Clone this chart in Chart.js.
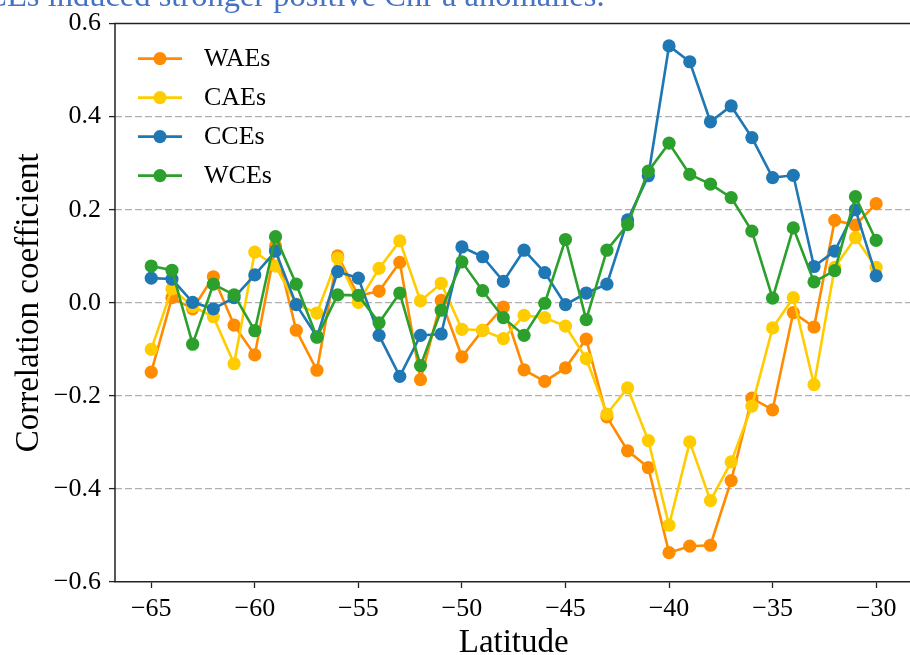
<!DOCTYPE html>
<html>
<head>
<meta charset="utf-8">
<script src="https://cdn.jsdelivr.net/npm/chart.js@4.4.1/dist/chart.umd.min.js"></script>
<style>
  html, body { margin: 0; padding: 0; background: #fff; overflow: hidden; }
  #wrap { width: 919px; height: 655px; }
</style>
</head>
<body>
<div id="wrap"><canvas id="chart" width="919" height="655"></canvas></div>
<script>
const latitudes = [-65, -64, -63, -62, -61, -60, -59, -58, -57, -56, -55, -54, -53, -52, -51, -50, -49, -48,
  -47, -46, -45, -44, -43, -42, -41, -40, -39, -38, -37, -36, -35, -34, -33, -32, -31, -30];

const waes = [-0.149, 0.011, -0.013, 0.056, -0.048, -0.112, 0.122, -0.059, -0.145, 0.101, 0.015, 0.025,
  0.087, -0.165, 0.005, -0.116, -0.059, -0.009, -0.144, -0.169, -0.140, -0.078, -0.245, -0.318,
  -0.354, -0.537, -0.523, -0.521, -0.382, -0.205, -0.230, -0.021, -0.052, 0.177, 0.167, 0.213];

const caes = [-0.100, 0.030, -0.008, -0.030, -0.131, 0.109, 0.079, -0.003, -0.022, 0.096, 0.001, 0.074,
  0.133, 0.004, 0.042, -0.057, -0.059, -0.077, -0.027, -0.032, -0.050, -0.120, -0.239, -0.183,
  -0.296, -0.478, -0.299, -0.425, -0.342, -0.222, -0.054, 0.011, -0.176, 0.076, 0.140, 0.076];

const cces = [0.053, 0.051, 0.001, -0.013, 0.011, 0.060, 0.111, -0.004, -0.073, 0.067, 0.053, -0.070,
  -0.158, -0.070, -0.067, 0.120, 0.099, 0.046, 0.113, 0.065, -0.004, 0.021, 0.040, 0.178,
  0.273, 0.552, 0.518, 0.389, 0.423, 0.355, 0.269, 0.274, 0.078, 0.111, 0.200, 0.058];

const wces = [0.079, 0.070, -0.089, 0.040, 0.017, -0.060, 0.142, 0.040, -0.074, 0.017, 0.016, -0.043,
  0.021, -0.135, -0.016, 0.088, 0.026, -0.032, -0.070, -0.001, 0.136, -0.036, 0.113, 0.168,
  0.283, 0.343, 0.276, 0.255, 0.226, 0.154, 0.010, 0.161, 0.045, 0.069, 0.228, 0.134];

const seriesNames = ["WAEs", "CAEs", "CCEs", "WCEs"];
const seriesColors = ["#ff8c00", "#ffcc00", "#1f77b4", "#2ca02c"];
const xTicks = [-65, -60, -55, -50, -45, -40, -35, -30];
const yTicks = [-0.6, -0.4, -0.2, 0.0, 0.2, 0.4, 0.6];

const titleText = "CCEs induced stronger positive Chl-a anomalies.";
const serif = "'Liberation Serif', 'Times New Roman', serif";

const minus = (s) => s.replace("-", "\u2212");

const makeDataset = (label, values, color, order) => ({
  label: label,
  data: latitudes.map((lat, i) => ({ x: lat, y: values[i] })),
  borderColor: color,
  backgroundColor: color,
  pointBackgroundColor: color,
  pointBorderColor: color,
  borderWidth: 2.6,
  pointRadius: 6.6,
  pointBorderWidth: 0,
  pointHoverRadius: 6.6,
  tension: 0,
  order: order,
});

// legend drawn like matplotlib: short line with a marker, no frame
const lineLegend = {
  id: "lineLegend",
  afterDraw(chart) {
    const ctx = chart.ctx;
    const { left, top } = chart.chartArea;
    ctx.save();
    ctx.font = "26px " + serif;
    ctx.textBaseline = "middle";
    chart.data.datasets.forEach((ds, i) => {
      const y = top + 35 + i * 39;
      const x0 = left + 23;
      ctx.strokeStyle = ds.borderColor;
      ctx.lineWidth = 2.6;
      ctx.beginPath();
      ctx.moveTo(x0, y);
      ctx.lineTo(x0 + 44, y);
      ctx.stroke();
      ctx.fillStyle = ds.borderColor;
      ctx.beginPath();
      ctx.arc(x0 + 22, y, 6.6, 0, Math.PI * 2);
      ctx.fill();
      ctx.fillStyle = "#000";
      ctx.fillText(ds.label, left + 89, y + 1);
    });
    ctx.restore();
  },
};

// left and top spines, plus the cropped caption above the axes
const frame = {
  id: "frame",
  afterDraw(chart) {
    const ctx = chart.ctx;
    const { left, right, top, bottom } = chart.chartArea;
    ctx.save();
    ctx.strokeStyle = "#222";
    ctx.lineWidth = 1.5;
    ctx.beginPath();
    ctx.moveTo(left, bottom);
    ctx.lineTo(left, top);
    ctx.lineTo(right, top);
    ctx.stroke();
    ctx.font = "32.5px " + serif;
    ctx.fillStyle = "#4472c4";
    ctx.textBaseline = "alphabetic";
    const lead = ctx.measureText("CC").width;
    ctx.fillText(titleText, 7 - lead, 6);
    ctx.restore();
  },
};

new Chart(document.getElementById("chart"), {
  type: "line",
  data: {
    datasets: [
      makeDataset(seriesNames[0], waes, seriesColors[0], 4),
      makeDataset(seriesNames[1], caes, seriesColors[1], 3),
      makeDataset(seriesNames[2], cces, seriesColors[2], 2),
      makeDataset(seriesNames[3], wces, seriesColors[3], 1),
    ],
  },
  options: {
    responsive: false,
    animation: false,
    events: [],
    layout: { padding: { top: 22, left: 10, right: 0, bottom: 0 } },
    plugins: {
      legend: { display: false },
      tooltip: { enabled: false },
    },
    scales: {
      x: {
        type: "linear",
        min: -66.75,
        max: -28.25,
        afterBuildTicks: (scale) => {
          scale.ticks = xTicks.map((v) => ({ value: v }));
        },
        afterFit: (scale) => {
          scale.height = 73;
        },
        border: { color: "#222", width: 1.5 },
        grid: {
          drawOnChartArea: false,
          drawTicks: true,
          tickLength: 6,
          tickColor: "#222",
          tickWidth: 1.3,
        },
        ticks: {
          color: "#000",
          padding: 6,
          maxRotation: 0,
          font: { family: serif, size: 26 },
          callback: (v) => minus(String(v)),
        },
        title: {
          display: true,
          text: "Latitude",
          color: "#000",
          font: { family: serif, size: 33 },
          padding: { top: 0, bottom: -8 },
        },
      },
      y: {
        min: -0.6,
        max: 0.6,
        afterBuildTicks: (scale) => {
          scale.ticks = yTicks.map((v) => ({ value: v }));
        },
        afterFit: (scale) => {
          scale.width = 105;
        },
        // gridline dash comes from border.dash in v4; the spine itself is drawn by the frame plugin
        border: { display: false, dash: [7, 3] },
        grid: {
          color: (c) => (Math.abs(Math.abs(c.tick.value) - 0.6) < 1e-9 ? "rgba(0,0,0,0)" : "#b0b0b0"),
          lineWidth: 1.2,
          drawTicks: true,
          tickLength: 6,
          tickColor: "#222",
          tickWidth: 1.3,
          tickBorderDash: [],
        },
        ticks: {
          color: "#000",
          padding: 8,
          font: { family: serif, size: 26 },
          callback: (v) => minus(Number(v).toFixed(1)),
        },
        title: {
          display: true,
          text: "Correlation coefficient",
          color: "#000",
          font: { family: serif, size: 33 },
          padding: { top: 0, bottom: 0 },
        },
      },
    },
  },
  plugins: [lineLegend, frame],
});
</script>
</body>
</html>
